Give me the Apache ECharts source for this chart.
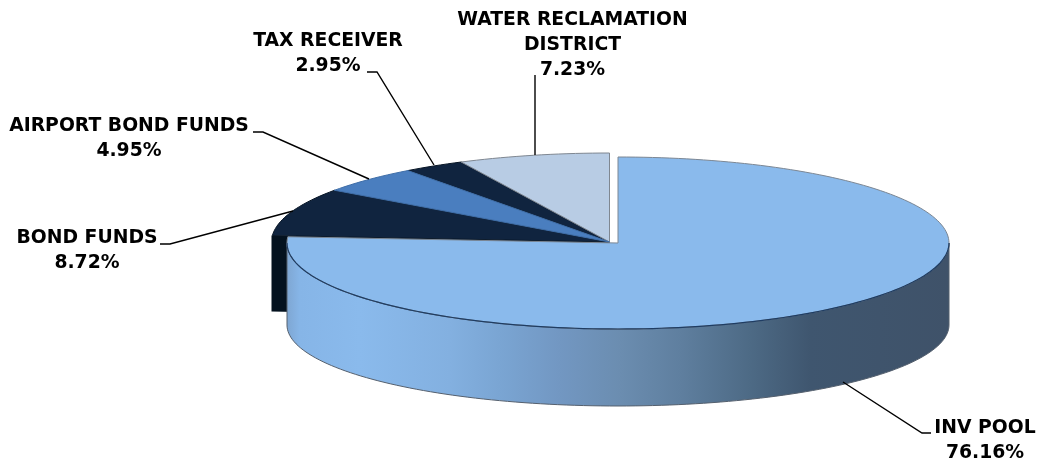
<!DOCTYPE html>
<html>
<head>
<meta charset="utf-8">
<style>html,body{margin:0;padding:0;background:#fff}#c{width:1039px;height:461px}</style>
<script src="https://cdn.jsdelivr.net/npm/echarts@6/dist/echarts.min.js"></script>
</head>
<body>
<div id="c"></div>
<script>
// ---- chart data (clockwise from 12 o'clock) ----
const categories = ['INV POOL', 'BOND FUNDS', 'AIRPORT BOND FUNDS', 'TAX RECEIVER', 'WATER RECLAMATION\nDISTRICT'];
const shares = [76.16, 8.72, 4.95, 2.95, 7.23];

// ---- styling & layout (kept apart from the data) ----
const topColors = ['#8abaec', '#10243f', '#4a7ebf', '#10243f', '#b8cce4'];
const edgeColors = ['#7c8794', '#071525', '#3f6ea8', '#071525', '#7f8791'];
const labelAt = [[985, 428.5], [87, 238.5], [129, 126.5], [328, 41.5], [572.5, 20.5]];
const leaders = [
  [[843, 382], [922, 433], [931, 433]],
  [[293, 211], [170, 244], [160, 244]],
  [[369, 179], [263, 132], [253, 132]],
  [[434, 165], [377, 72], [367, 72]],
  [[535, 155], [535, 75]]
];
const pool = { cx: 618, cy: 243, rx: 331, ry: 86, bottomCy: 325, bottomRy: 81 };
const rest = { cx: 609.5, cy: 242, rx: 338, ry: 89, depth: 76 };
const sideStops = [
  [287, '#7ea6d2'], [300, '#86b5e7'], [360, '#8abaec'], [450, '#83b0e0'], [500, '#7aa5d3'],
  [560, '#7297c2'], [620, '#6b8db0'], [680, '#5f7f9f'], [750, '#4d6a85'], [810, '#3f566f'], [949, '#3f5269']
];

const total = shares.reduce((a, b) => a + b, 0);
let run = 0;
const rows = shares.map((v, i) => {
  const row = [i, v, run / total * 360];
  run += v;
  return row;
});
const rad = d => d * Math.PI / 180;

function arc(e, a0, a1, cy, ry) {
  const n = Math.max(2, Math.ceil(Math.abs(a1 - a0) / 1.5));
  const out = [];
  for (let k = 0; k <= n; k++) {
    const a = rad(a0 + (a1 - a0) * k / n);
    out.push([e.cx + e.rx * Math.sin(a), cy - ry * Math.cos(a)]);
  }
  return out;
}

function renderItem(params, api) {
  const i = api.value(0);
  const a0 = api.value(2);
  const a1 = a0 + api.value(1) / total * 360;
  const C = p => api.coord(p);
  const poly = (pts, style, z2) => ({ type: 'polygon', z2, shape: { points: pts.map(C) }, style });
  const line = (pts, stroke, lineWidth, z2) => ({
    type: 'polyline', z2, shape: { points: pts.map(C) }, style: { fill: null, stroke, lineWidth }
  });
  const kids = [];
  if (i === 0) {
    const e = pool;
    const stops = sideStops.map(s => ({ offset: (s[0] - 287) / (949 - 287), color: s[1] }));
    const band = arc(e, 90, 270, e.cy, e.ry).concat(arc(e, 270, 90, e.bottomCy, e.bottomRy));
    kids.push(poly(band, { fill: new echarts.graphic.LinearGradient(0, 0, 1, 0, stops), stroke: '#55606e', lineWidth: 1 }, 20));
    kids.push(poly(arc(e, a0, a1, e.cy, e.ry).concat([[e.cx, e.cy]]), { fill: topColors[i], stroke: edgeColors[i], lineWidth: 1 }, 21));
    kids.push(line(arc(e, 90, 270, e.cy, e.ry), '#1f3d63', 1.2, 22));
  } else {
    const e = rest;
    const top = arc(e, a0, a1, e.cy, e.ry).concat([[e.cx, e.cy]]);
    if (i === 1) {
      const corner = arc(e, a0, a0, e.cy, e.ry)[0];
      const left = e.cx - e.rx;
      kids.push(poly([[left, corner[1]], [e.cx, e.cy], [e.cx, e.cy + e.depth], [left, corner[1] + e.depth]], { fill: '#04121f' }, 5));
    }
    kids.push(poly(top, { fill: topColors[i], stroke: edgeColors[i], lineWidth: 1 }, 10 + (i === 2 ? 1 : 0)));
  }
  kids.push(line(leaders[i], '#000', 1.4, 30));
  const c = C(labelAt[i]);
  kids.push({
    type: 'text', z2: 40,
    style: {
      text: categories[i] + '\n' + api.value(1).toFixed(2) + '%',
      x: c[0], y: c[1] - 12.5,
      align: 'center', verticalAlign: 'top', lineHeight: 25,
      font: 'bold 18.8px "DejaVu Sans"', fill: '#000'
    }
  });
  return { type: 'group', children: kids };
}

const chart = echarts.init(document.getElementById('c'), null, { renderer: 'canvas' });
chart.setOption({
  backgroundColor: '#fff',
  animation: false,
  grid: { left: 0, right: 0, top: 0, bottom: 0 },
  xAxis: { type: 'value', min: 0, max: 1039, show: false },
  yAxis: { type: 'value', min: 0, max: 461, inverse: true, show: false },
  series: [{
    type: 'custom',
    coordinateSystem: 'cartesian2d',
    renderItem,
    encode: { x: 1, y: 2 },
    clip: false,
    silent: true,
    data: rows
  }]
});
</script>
</body>
</html>
